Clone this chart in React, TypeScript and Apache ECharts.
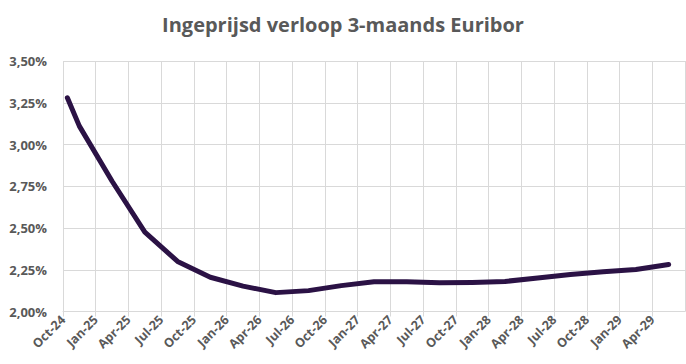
import React, { useEffect, useRef } from "react";
import * as echarts from "echarts";

const title = "Ingeprijsd verloop 3-maands Euribor";
// month offsets from Oct-24
const monthOffsets = [0.4, 1.5, 4.5, 7.5, 10.5, 13.5, 16.5, 19.5, 22.5, 25.5, 28.5, 31.5, 34.5, 37.5, 40.5, 43.5, 46.5, 49.5, 52.5, 55.5];
const rates = [3.28, 3.11, 2.78, 2.475, 2.30, 2.205, 2.152, 2.113, 2.125, 2.155, 2.178, 2.178, 2.172, 2.174, 2.18, 2.2, 2.222, 2.238, 2.252, 2.282];
const tickLabels = ["Oct-24", "Jan-25", "Apr-25", "Jul-25", "Oct-25", "Jan-26", "Apr-26", "Jul-26", "Oct-26", "Jan-27", "Apr-27", "Jul-27", "Oct-27", "Jan-28", "Apr-28", "Jul-28", "Oct-28", "Jan-29", "Apr-29"];

export default function App() {
  const ref = useRef<HTMLDivElement>(null);
  useEffect(() => {
    document.body.style.margin = "0";
    const chart = echarts.init(ref.current!, null, { renderer: "svg" });
    const font = "'Open Sans', 'Noto Sans', sans-serif";
    chart.setOption({
      animation: false,
      title: {
        text: title,
        left: "center",
        top: 9,
        textStyle: { fontFamily: font, fontSize: 20, fontWeight: "bold", color: "#595959" },
      },
      grid: { left: 63, right: 1, top: 61, bottom: 52.5, containLabel: false },
      xAxis: {
        type: "value",
        min: 0,
        max: 57,
        interval: 3,
        axisLine: { show: true, lineStyle: { color: "#d9d9d9", width: 1 } },
        axisTick: { show: true, length: 5, lineStyle: { color: "#d9d9d9" } },
        splitLine: { show: true, lineStyle: { color: "#d9d9d9", width: 1 } },
        axisLabel: {
          rotate: 45,
          margin: 6,
          fontFamily: font,
          fontSize: 12.5,
          fontWeight: "bold",
          color: "#595959",
          showMaxLabel: false,
          formatter: (v: number) => tickLabels[Math.round(v / 3)] ?? "",
        },
      },
      yAxis: {
        type: "value",
        min: 2.0,
        max: 3.5,
        interval: 0.25,
        axisLine: { show: false },
        axisTick: { show: false },
        splitLine: { show: true, lineStyle: { color: "#d9d9d9", width: 1 } },
        axisLabel: {
          margin: 16,
          fontFamily: font,
          fontSize: 13,
          fontWeight: "bold",
          color: "#595959",
          formatter: (v: number) => v.toFixed(2).replace(".", ",") + "%",
        },
      },
      series: [
        {
          type: "line",
          data: monthOffsets.map((m, i) => [m, rates[i]]),
          showSymbol: false,
          smooth: false,
          lineStyle: { color: "#2b1245", width: 5, cap: "round", join: "round" },
        },
      ],
    });
    return () => chart.dispose();
  }, []);
  return <div ref={ref} style={{ width: 686, height: 364 }} />;
}
